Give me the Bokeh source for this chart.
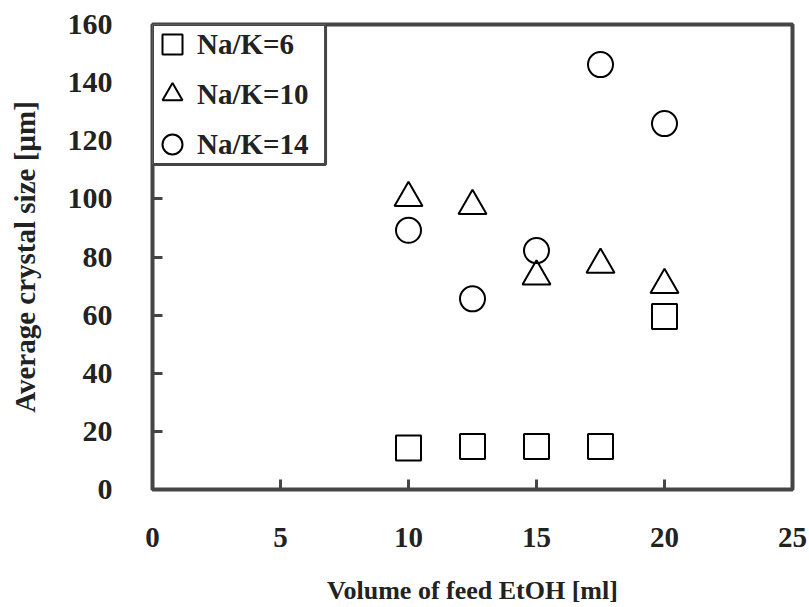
from bokeh.plotting import figure
from bokeh.models import Range1d, Legend, LegendItem, FixedTicker, BoxAnnotation
from bokeh.embed import file_html
from bokeh.resources import INLINE

# Data
volume = [10, 12.5, 15, 17.5, 20]
size_nak6 = [14.3, 14.8, 14.8, 14.8, 59.5]
size_nak10 = [100.3, 97.6, 73.3, 77.4, 70.4]
size_nak14 = [89.2, 65.6, 82.2, 146.2, 125.9]
series_labels = ["Na/K=6", "Na/K=10", "Na/K=14"]
x_ticks = [0, 5, 10, 15, 20, 25]
y_ticks = [0, 20, 40, 60, 80, 100, 120, 140, 160]

FONT = "Liberation Serif"
FRAME = "#454545"

p = figure(width=808, height=607, output_backend="svg", toolbar_location=None,
           x_range=Range1d(0, 25), y_range=Range1d(0, 160),
           min_border_left=152, min_border_right=16, min_border_top=24,
           min_border_bottom=118)

p.xgrid.visible = False
p.ygrid.visible = False
p.outline_line_color = FRAME
p.outline_line_width = 4
p.background_fill_color = "white"
p.border_fill_color = "white"

for ax in (p.xaxis[0], p.yaxis[0]):
    ax.axis_line_color = None
    ax.major_tick_in = 10
    ax.major_tick_out = 0
    ax.major_tick_line_width = 3
    ax.major_tick_line_color = FRAME
    ax.minor_tick_line_color = None
    ax.major_label_text_font = FONT
    ax.major_label_text_font_style = "bold"
    ax.major_label_text_color = "#222222"
    ax.axis_label_text_font = FONT
    ax.axis_label_text_font_style = "bold"
    ax.axis_label_text_color = "#222222"

p.xaxis.major_label_text_font_size = "29px"
p.yaxis.major_label_text_font_size = "30px"
p.xaxis.axis_label_text_font_size = "26px"
p.yaxis.axis_label_text_font_size = "29px"
p.xaxis.ticker = FixedTicker(ticks=x_ticks)
p.yaxis.ticker = FixedTicker(ticks=y_ticks)
p.xaxis.axis_label = "Volume of feed EtOH [ml]"
p.yaxis.axis_label = "Average crystal size [µm]"
p.xaxis.major_label_standoff = 38
p.yaxis.major_label_standoff = 40
p.xaxis.axis_label_standoff = 26
p.yaxis.axis_label_standoff = 24

r6 = p.scatter(volume, size_nak6, marker="square", size=25, fill_color=None,
               line_color="black", line_width=2)
r10 = p.scatter(volume, size_nak10, marker="triangle", size=28, fill_color=None,
                line_color="black", line_width=2)
r14 = p.scatter(volume, size_nak14, marker="circle", size=25, fill_color=None,
                line_color="black", line_width=2)

# legend frame box (top-left corner of the plot frame)
legend_box = BoxAnnotation(left=0, right=6.76, top=160, bottom=111.8,
                           fill_color="white", fill_alpha=1,
                           line_color=FRAME, line_alpha=1, line_width=3)
p.add_layout(legend_box)

legend = Legend(items=[LegendItem(label=series_labels[0], renderers=[r6]),
                       LegendItem(label=series_labels[1], renderers=[r10]),
                       LegendItem(label=series_labels[2], renderers=[r14])],
                location="top_left", margin=-5, padding=0, spacing=0,
                glyph_width=50, glyph_height=50, label_height=50,
                label_standoff=0,
                border_line_color=None, background_fill_alpha=0,
                label_text_font=FONT, label_text_font_style="bold",
                label_text_font_size="29px", label_text_color="#222222")
p.add_layout(legend)

open("out.html", "w").write(file_html(p, INLINE))
